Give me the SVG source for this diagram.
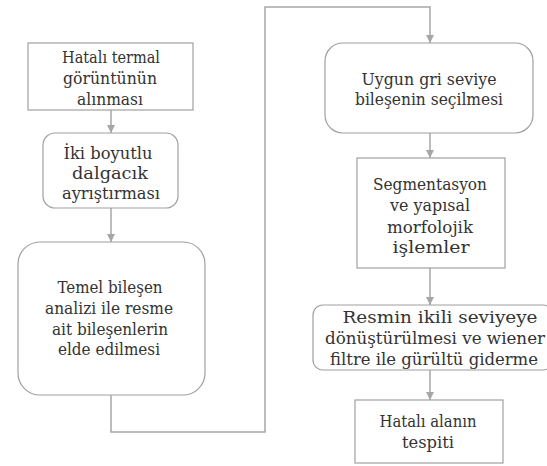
<svg xmlns="http://www.w3.org/2000/svg" width="547" height="466" viewBox="0 0 547 466">
<defs>
<marker id="ah" markerWidth="10" markerHeight="10" refX="9" refY="5" orient="auto" markerUnits="userSpaceOnUse">
<path d="M1,1 L9,5 L1,9 Z" fill="#a6a6a6"/>
</marker>
<style>
.box{fill:#fff;stroke:#a0a0a0;stroke-width:1.2}
.t{font-family:'DejaVu Serif Condensed','DejaVu Serif',serif;font-size:16px;fill:#333;text-anchor:middle}
.c{fill:none;stroke:#a6a6a6;stroke-width:1.5}
</style>
</defs>
<rect width="547" height="466" fill="#fff"/>
<g id="connectors">
<path class="c" d="M111,110 L111,133" marker-end="url(#ah)"/>
<path class="c" d="M111,208 L111,242" marker-end="url(#ah)"/>
<path class="c" d="M111,395 L111,432 L265,432 L265,7 L430,7 L430,43" marker-end="url(#ah)"/>
<path class="c" d="M430,133 L430,158" marker-end="url(#ah)"/>
<path class="c" d="M430,268 L430,305" marker-end="url(#ah)"/>
<path class="c" d="M430,370 L430,400" marker-end="url(#ah)"/>
</g>
<g id="n1">
<rect class="box" x="28" y="43" width="165" height="67"/>
<text class="t" x="111" y="63" textLength="98" lengthAdjust="spacingAndGlyphs">Hatalı termal</text>
<text class="t" x="110" y="84" textLength="94" lengthAdjust="spacingAndGlyphs">görüntünün</text>
<text class="t" x="110" y="105" textLength="66" lengthAdjust="spacingAndGlyphs">alınması</text>
</g>
<g id="n2">
<rect class="box" x="43" y="133" width="135" height="75" rx="12"/>
<text class="t" x="108" y="159" textLength="89" lengthAdjust="spacingAndGlyphs">İki boyutlu</text>
<text class="t" x="110" y="179" textLength="76" lengthAdjust="spacingAndGlyphs">dalgacık</text>
<text class="t" x="111" y="199" textLength="98" lengthAdjust="spacingAndGlyphs">ayrıştırması</text>
</g>
<g id="n3">
<rect class="box" x="18" y="242" width="187" height="153" rx="22"/>
<text class="t" x="110" y="293" textLength="105" lengthAdjust="spacingAndGlyphs">Temel bileşen</text>
<text class="t" x="109" y="314" textLength="128" lengthAdjust="spacingAndGlyphs">analizi ile resme</text>
<text class="t" x="110" y="335" textLength="116" lengthAdjust="spacingAndGlyphs">ait bileşenlerin</text>
<text class="t" x="109" y="355" textLength="102" lengthAdjust="spacingAndGlyphs">elde edilmesi</text>
</g>
<g id="n4">
<rect class="box" x="325" y="43" width="208" height="90" rx="18"/>
<text class="t" x="429" y="85" textLength="135" lengthAdjust="spacingAndGlyphs">Uygun gri seviye</text>
<text class="t" x="429" y="105" textLength="148" lengthAdjust="spacingAndGlyphs">bileşenin seçilmesi</text>
</g>
<g id="n5">
<rect class="box" x="357" y="158" width="148" height="110"/>
<text class="t" x="430" y="190" textLength="114" lengthAdjust="spacingAndGlyphs">Segmentasyon</text>
<text class="t" x="430" y="211" textLength="80" lengthAdjust="spacingAndGlyphs">ve yapısal</text>
<text class="t" x="430" y="233" textLength="86" lengthAdjust="spacingAndGlyphs">morfolojik</text>
<text class="t" x="431" y="253" textLength="77" lengthAdjust="spacingAndGlyphs">işlemler</text>
</g>
<g id="n6">
<rect class="box" x="313" y="305" width="240" height="65" rx="10"/>
<text class="t" x="440" y="323" textLength="195" lengthAdjust="spacingAndGlyphs">Resmin ikili seviyeye</text>
<text class="t" x="435" y="344" textLength="220" lengthAdjust="spacingAndGlyphs">dönüştürülmesi ve wiener</text>
<text class="t" x="434" y="365" textLength="208" lengthAdjust="spacingAndGlyphs">filtre ile gürültü giderme</text>
</g>
<g id="n7">
<rect class="box" x="355" y="400" width="148" height="63"/>
<text class="t" x="428" y="427" textLength="97" lengthAdjust="spacingAndGlyphs">Hatalı alanın</text>
<text class="t" x="428" y="448" textLength="52" lengthAdjust="spacingAndGlyphs">tespiti</text>
</g>
</svg>
